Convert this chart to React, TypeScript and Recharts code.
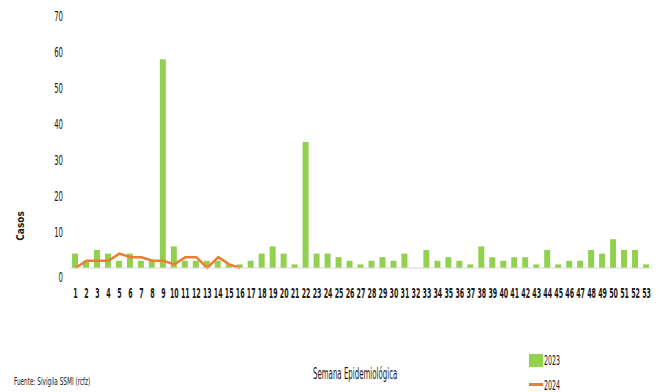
import React from 'react';
import { ComposedChart, Bar, Line, XAxis, YAxis } from 'recharts';

const weeks = Array.from({ length: 53 }, (_, i) => String(i + 1));
const cases2023 = [
  4, 2, 5, 4, 2, 4, 2, 2, 58, 6,
  2, 2, 2, 2, 1, 1, 2, 4, 6, 4,
  1, 35, 4, 4, 3, 2, 1, 2, 3, 2,
  4, 0, 5, 2, 3, 2, 1, 6, 3, 2,
  3, 3, 1, 5, 1, 2, 2, 5, 4, 8,
  5, 5, 1,
];
const cases2024 = [0, 2, 2, 2, 4, 3, 3, 2, 2, 1, 3, 3, 0, 3, 1, 0];
const yTicks = [0, 10, 20, 30, 40, 50, 60, 70];

const data = weeks.map((w, i) => ({
  week: w,
  y2023: cases2023[i],
  y2024: i < cases2024.length ? cases2024[i] : null,
}));

const FONT = "'Liberation Sans Narrow', 'DejaVu Sans Condensed', sans-serif";
const GREEN = '#92d050';
const ORANGE = '#ed7d31';

const XTick = (props: any) => {
  const { x, y, payload } = props;
  return (
    <text
      transform={`translate(${x},${y + 30}) scale(0.5,1)`}
      textAnchor="middle"
      fontFamily={FONT}
      fontSize={14}
      fontWeight="bold"
      fill="#1a1a1a"
    >
      {payload.value}
    </text>
  );
};

const YTick = (props: any) => {
  const { x, y, payload } = props;
  const dy = payload.value === 0 ? 14 : 5;
  return (
    <text
      transform={`translate(${x - 7},${y + dy}) scale(0.55,1)`}
      textAnchor="end"
      fontFamily={FONT}
      fontSize={14}
      fill="#1a1a1a"
    >
      {payload.value}
    </text>
  );
};

function Squish({ left, top, size, scale, bold, children }: any) {
  return (
    <div
      style={{
        position: 'absolute',
        left,
        top,
        fontFamily: FONT,
        fontSize: size,
        lineHeight: 1,
        fontWeight: bold ? 'bold' : 'normal',
        whiteSpace: 'nowrap',
        color: '#1a1a1a',
        transform: `scaleX(${scale})`,
        transformOrigin: 'left top',
      }}
    >
      {children}
    </div>
  );
}

export default function App() {
  return (
    <div style={{ position: 'absolute', left: 0, top: 0, width: 662, height: 392, background: '#fff', overflow: 'hidden' }}>
      <ComposedChart
        width={662}
        height={392}
        data={data}
        margin={{ top: 16, right: 10, left: 0, bottom: 94 }}
        barCategoryGap={5}
      >
        <XAxis
          dataKey="week"
          interval={0}
          height={30}
          tickSize={0}
          tickMargin={0}
          tickLine={false}
          axisLine={{ stroke: '#d9d9d9' }}
          tick={<XTick />}
        />
        <YAxis
          width={70}
          domain={[0, 70]}
          ticks={yTicks}
          tickSize={0}
          tickMargin={0}
          tickLine={false}
          axisLine={false}
          tick={<YTick />}
        />
        <Bar dataKey="y2023" fill={GREEN} barSize={6} isAnimationActive={false} />
        <Line
          dataKey="y2024"
          stroke={ORANGE}
          strokeWidth={2.5}
          dot={false}
          type="linear"
          isAnimationActive={false}
        />
      </ComposedChart>

      <div
        style={{
          position: 'absolute',
          left: 20,
          top: 226,
          transform: 'translate(-50%,-50%) rotate(-90deg)',
          fontFamily: FONT,
          fontSize: 10,
          fontWeight: 'bold',
          color: '#1a1a1a',
          whiteSpace: 'nowrap',
        }}
      >
        Casos
      </div>

      <Squish left={14} top={376} size={11} scale={0.58}>Fuente: Sivigila SSMI (rcfz)</Squish>
      <Squish left={313} top={367} size={15} scale={0.52}>Semana Epidemiológica</Squish>

      <div style={{ position: 'absolute', left: 529, top: 354, width: 14, height: 13, background: GREEN }} />
      <Squish left={544} top={353} size={14} scale={0.5}>2023</Squish>
      <div style={{ position: 'absolute', left: 529, top: 383, width: 14, height: 2.5, background: ORANGE }} />
      <Squish left={544} top={378} size={14} scale={0.5}>2024</Squish>
    </div>
  );
}
